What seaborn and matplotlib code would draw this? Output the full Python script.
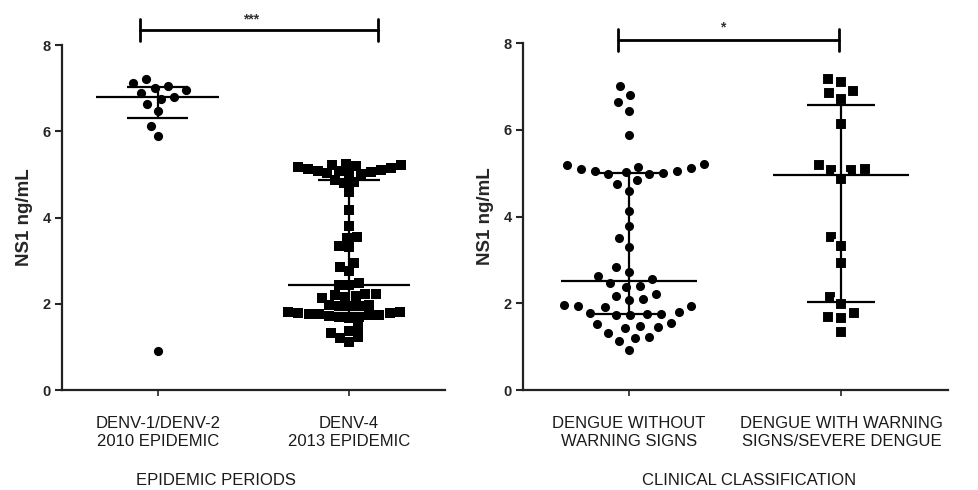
import numpy as np
import pandas as pd
import matplotlib
matplotlib.use("Agg")
import matplotlib.pyplot as plt
from matplotlib.transforms import ScaledTranslation
import seaborn as sns

# NS1 values (ng/mL)
denv12_2010 = [7.13, 7.22, 7.05, 7.0, 6.95, 6.9, 6.8, 6.75, 6.64, 6.47, 6.13, 5.88, 0.91]
denv4_2013 = [5.25, 5.23, 5.21, 5.19, 5.17, 5.15, 5.13, 5.11, 5.09, 5.07, 5.05, 5.03, 5.02, 5.0,
              4.87, 4.83, 4.8,
              4.6, 4.18, 3.8, 3.55, 3.53, 3.33, 3.31, 2.95, 2.85, 2.75, 2.49, 2.44, 2.44,
              2.23, 2.22, 2.2, 2.17, 2.15, 2.13,
              1.98, 1.97, 1.96, 1.95, 1.94,
              1.82, 1.8, 1.79, 1.78, 1.77, 1.76, 1.75, 1.74, 1.72, 1.7, 1.69, 1.68,
              1.47, 1.37, 1.32, 1.24, 1.2, 1.12]
no_warning = [7.01, 6.8, 6.64, 6.44, 5.88,
              5.21, 5.18, 5.15, 5.12, 5.1, 5.06, 5.04, 5.02, 5.0, 4.99, 4.98,
              4.84, 4.76, 4.59, 4.13, 3.78, 3.5, 3.29, 2.83, 2.73, 2.62, 2.57,
              2.46, 2.4, 2.38,
              2.22, 2.18, 2.1, 2.08,
              1.96, 1.94, 1.93, 1.92,
              1.8, 1.78, 1.76, 1.75, 1.74, 1.72,
              1.55, 1.52, 1.48, 1.45, 1.43,
              1.32, 1.22, 1.2, 1.13,
              0.92]
warning_severe = [7.18, 7.1, 6.9, 6.85, 6.72, 6.13, 5.2, 5.09, 5.08, 5.07, 4.86,
                  3.52, 3.32, 2.92, 2.14, 1.98, 1.78, 1.69, 1.65, 1.33]

period_labels = ["DENV-1/DENV-2\n2010 EPIDEMIC", "DENV-4\n2013 EPIDEMIC"]
clinical_labels = ["DENGUE WITHOUT\nWARNING SIGNS", "DENGUE WITH WARNING\nSIGNS/SEVERE DENGUE"]
yticks = [0, 2, 4, 6, 8]

sns.set_style("ticks")
plt.rcParams['font.family'] = ['Liberation Sans', 'DejaVu Sans']

fig = plt.figure(figsize=(9.79, 4.90), dpi=100)
ax1 = fig.add_axes([0.0633, 0.204, 0.391, 0.704])
ax2 = fig.add_axes([0.534, 0.204, 0.434, 0.708])


def scatter_panel(ax, groups, labels, markers, edges, label_shift, title, title_x,
                  sig_text, sig_span, sig_y, star_xy):
    for i, (vals, mk, ew) in enumerate(zip(groups, markers, edges)):
        df = pd.DataFrame({"group": labels[i], "ns1": vals})
        # white edge gives the small gaps between neighbouring dots
        sns.swarmplot(data=df, x="group", y="ns1", order=labels, ax=ax,
                      color="black", marker=mk, size=7 + ew * 0.7,
                      edgecolor="white", linewidth=ew, zorder=3)
        q1, med, q3 = np.percentile(vals, [25, 50, 75], method="weibull")
        ax.hlines(med, i - 0.32, i + 0.32, color="black", lw=1.6, zorder=5)
        ax.hlines([q1, q3], i - 0.16, i + 0.16, color="black", lw=1.6, zorder=5)
        ax.vlines(i, q1, q3, color="black", lw=1.6, zorder=5)

    ax.set_xlim(-0.5, 1.5)
    ax.set_ylim(0, 8)
    ax.set_yticks(yticks)
    ax.set_yticklabels([str(t) for t in yticks], fontweight="bold", fontsize=10.5)
    ax.set_ylabel("NS1 ng/mL", fontweight="bold", fontsize=13.5, labelpad=7)
    ax.set_xticks([0, 1])
    ax.set_xticklabels(labels, fontsize=12, linespacing=1.25, color="#1a1a1a")
    for lab, dx in zip(ax.get_xticklabels(), label_shift):
        lab.set_transform(lab.get_transform() + ScaledTranslation(dx / 100, 0, fig.dpi_scale_trans))
    ax.tick_params(axis="x", length=4, width=1.2, pad=15)
    ax.tick_params(axis="y", length=5, width=1.5, pad=3)
    ax.set_xlabel(title, fontsize=12, color="#1a1a1a")
    ax.xaxis.set_label_coords(title_x, -0.24)
    sns.despine(ax=ax)
    for side in ["left", "bottom"]:
        ax.spines[side].set_linewidth(1.6)
        ax.spines[side].set_color("#222222")

    # significance bracket
    x0, x1 = sig_span
    ax.plot([x0, x1], [sig_y, sig_y], color="black", lw=2, clip_on=False)
    ax.plot([x0, x0], [sig_y - 0.25, sig_y + 0.25], color="black", lw=2, clip_on=False)
    ax.plot([x1, x1], [sig_y - 0.25, sig_y + 0.25], color="black", lw=2, clip_on=False)
    ax.text(star_xy[0], star_xy[1], sig_text, ha="center", va="center",
            fontsize=10, fontweight="bold", color="#333333", clip_on=False)


scatter_panel(ax1, [denv12_2010, denv4_2013], period_labels, ["o", "s"], [1.2, 0],
              [-15, -12], "EPIDEMIC PERIODS", 0.402, "***", (-0.09, 1.15), 8.35, (0.49, 8.6))
scatter_panel(ax2, [no_warning, warning_severe], clinical_labels, ["o", "s"], [1.5, 1.5],
              [-22, 30], "CLINICAL CLASSIFICATION", 0.532, "*", (-0.05, 0.99), 8.07, (0.44, 8.35))

fig.savefig("out.png", dpi=100)
